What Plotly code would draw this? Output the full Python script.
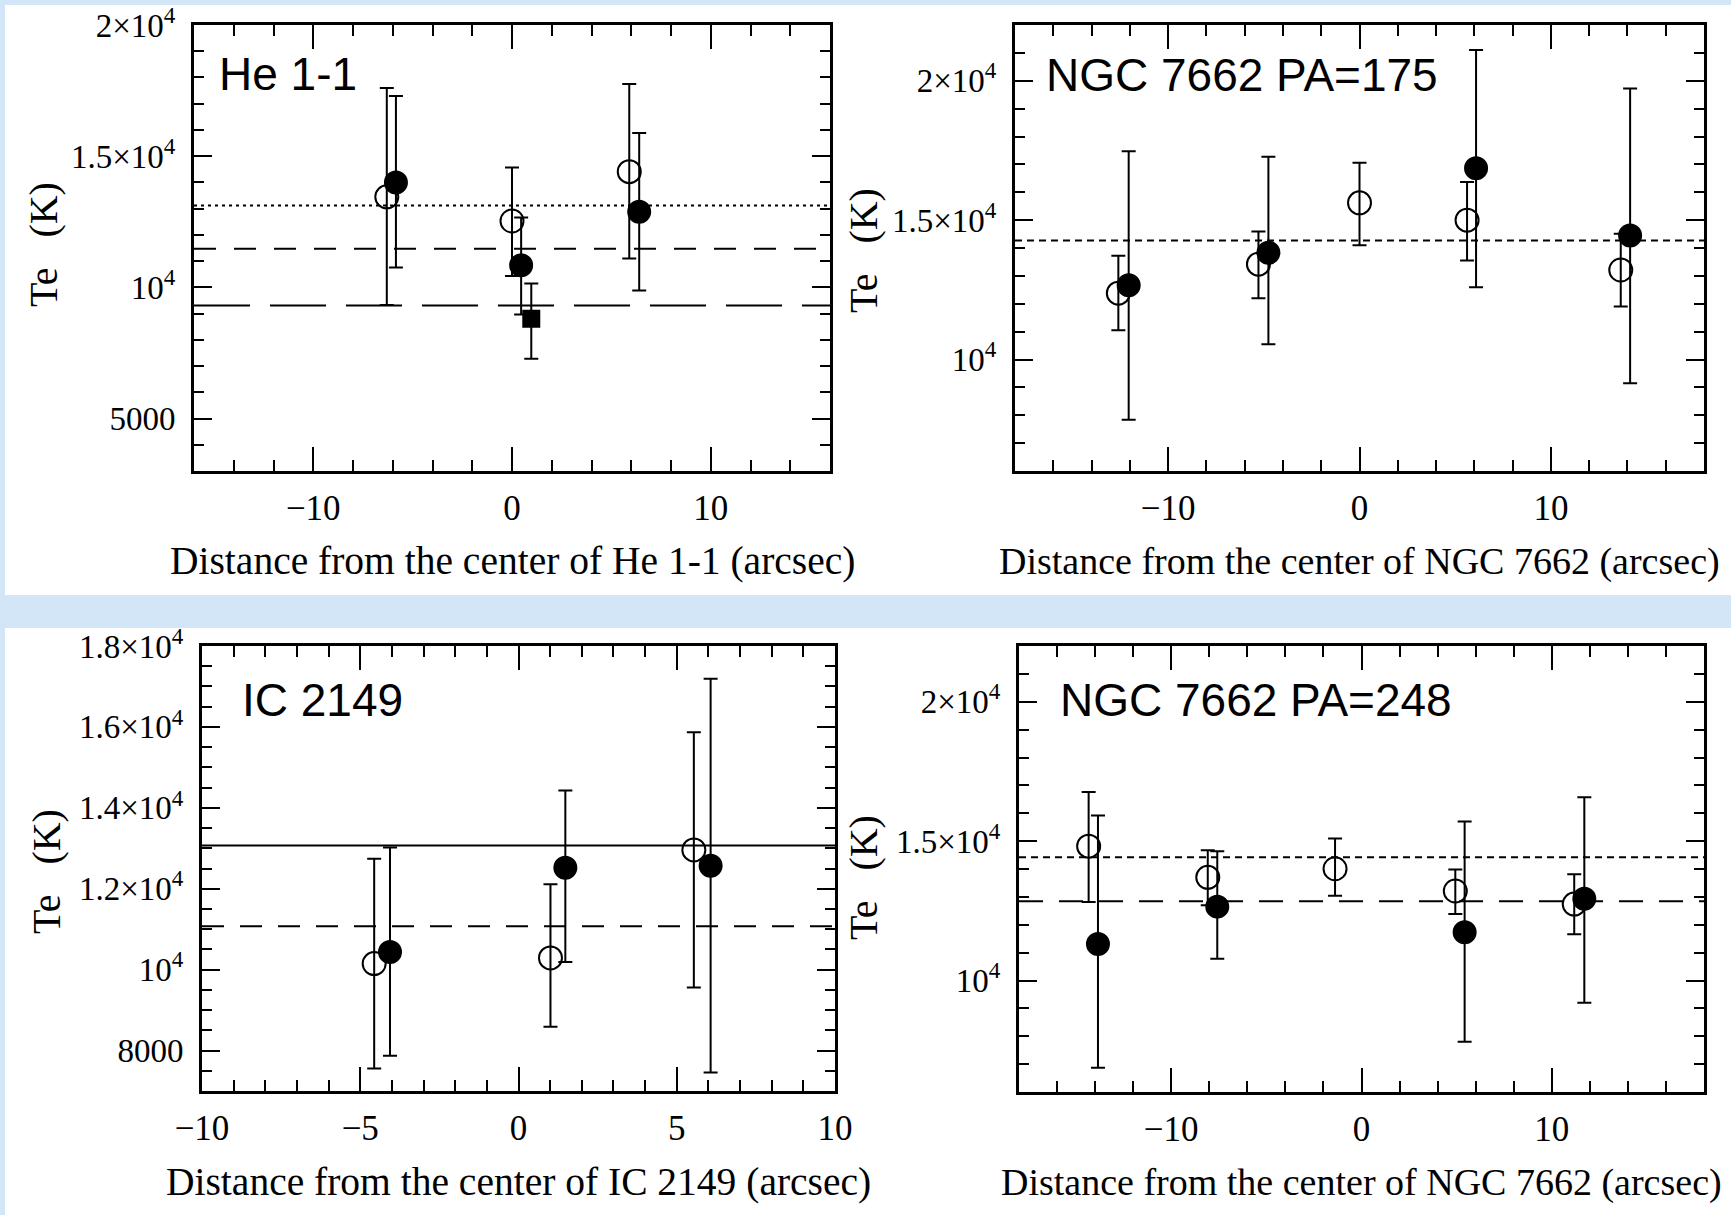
import plotly.graph_objects as go

# ---------------- data ----------------
# He 1-1
he_open_x = [-6.3, 0.0, 5.9]
he_open_y = [13450, 12530, 14410]
he_open_up = [4150, 2040, 3340]
he_open_dn = [4120, 2100, 3310]
he_fill_x = [-5.84, 0.46, 6.4]
he_fill_y = [14000, 10840, 12880]
he_fill_up = [3290, 1820, 3000]
he_fill_dn = [3240, 1870, 3000]
he_sq_x = [0.97]
he_sq_y = [8800]
he_sq_up = [1350]
he_sq_dn = [1520]
he_levels = [13120, 11470, 9310]          # dotted, dashed, long-dashed

# NGC 7662 PA=175
n175_open_x = [-12.6, -5.28, 0.0, 5.62, 13.65]
n175_open_y = [12380, 13420, 15620, 15000, 13210]
n175_open_up = [1340, 1170, 1440, 1370, 1300]
n175_open_dn = [1330, 1220, 1520, 1450, 1310]
n175_fill_x = [-12.06, -4.76, 6.09, 14.14]
n175_fill_y = [12660, 13830, 16860, 14450]
n175_fill_up = [4810, 3440, 4240, 5270]
n175_fill_dn = [4820, 3280, 4270, 5300]
n175_levels = [14270]                     # dotted

# IC 2149
ic_open_x = [-4.56, 1.01, 5.54]
ic_open_y = [10150, 10290, 12960]
ic_open_up = [2590, 1820, 2910]
ic_open_dn = [2595, 1700, 3400]
ic_fill_x = [-4.06, 1.48, 6.07]
ic_fill_y = [10435, 12520, 12570]
ic_fill_up = [2585, 1910, 4620]
ic_fill_dn = [2565, 2330, 5110]
ic_levels = [13070, 11070]                # solid, dashed

# NGC 7662 PA=248
n248_open_x = [-14.34, -8.08, -1.39, 4.93, 11.18]
n248_open_y = [14820, 13700, 14010, 13210, 12740]
n248_open_up = [1940, 970, 1080, 770, 1070]
n248_open_dn = [2000, 1000, 970, 820, 1080]
n248_fill_x = [-13.85, -7.58, 5.42, 11.71]
n248_fill_y = [11310, 12650, 11730, 12930]
n248_fill_up = [4610, 1990, 3970, 3640]
n248_fill_dn = [4440, 1870, 3930, 3730]
n248_levels = [14420, 12840]              # dotted, dashed

# tick labels
he_yticks = [5000, 10000, 15000, 20000]
he_ytext = ["5000", "10<sup>4</sup>", "1.5×10<sup>4</sup>", "2×10<sup>4</sup>"]
n_yticks = [10000, 15000, 20000]
n_ytext = ["10<sup>4</sup>", "1.5×10<sup>4</sup>", "2×10<sup>4</sup>"]
ic_yticks = [8000, 10000, 12000, 14000, 16000, 18000]
ic_ytext = ["8000", "10<sup>4</sup>", "1.2×10<sup>4</sup>", "1.4×10<sup>4</sup>",
            "1.6×10<sup>4</sup>", "1.8×10<sup>4</sup>"]
x_ticks_20 = [-10, 0, 10]
x_text_20 = ["−10", "0", "10"]
ic_xticks = [-10, -5, 0, 5, 10]
ic_xtext = ["−10", "−5", "0", "5", "10"]

titles_x = ["Distance from the center of He 1-1 (arcsec)",
            "Distance from the center of NGC 7662 (arcsec)",
            "Distance from the center of IC 2149 (arcsec)",
            "Distance from the center of NGC 7662 (arcsec)"]
panel_labels = ["He 1-1", "NGC 7662 PA=175", "IC 2149", "NGC 7662 PA=248"]

# ---------------- figure ----------------
W, H = 1731, 1215
SERIF = "Liberation Serif"
SANS = "Liberation Sans"
BG = "#d3e6f8"

fig = go.Figure()


def err(up, dn):
    return dict(type="data", symmetric=False, array=up, arrayminus=dn,
                color="black", thickness=2, width=7)


def add_pts(x, y, up, dn, symbol, size, ax):
    fig.add_trace(go.Scatter(
        x=x, y=y, mode="markers", xaxis="x" + ax, yaxis="y" + ax,
        error_y=err(up, dn),
        marker=dict(symbol=symbol, size=size, color="black",
                    line=dict(color="black", width=2)),
        showlegend=False, hoverinfo="skip"))


add_pts(he_open_x, he_open_y, he_open_up, he_open_dn, "circle-open", 23, "")
add_pts(he_fill_x, he_fill_y, he_fill_up, he_fill_dn, "circle", 22, "")
add_pts(he_sq_x, he_sq_y, he_sq_up, he_sq_dn, "square", 16, "")
add_pts(n175_open_x, n175_open_y, n175_open_up, n175_open_dn, "circle-open", 23, "2")
add_pts(n175_fill_x, n175_fill_y, n175_fill_up, n175_fill_dn, "circle", 22, "2")
add_pts(ic_open_x, ic_open_y, ic_open_up, ic_open_dn, "circle-open", 23, "3")
add_pts(ic_fill_x, ic_fill_y, ic_fill_up, ic_fill_dn, "circle", 22, "3")
add_pts(n248_open_x, n248_open_y, n248_open_up, n248_open_dn, "circle-open", 23, "4")
add_pts(n248_fill_x, n248_fill_y, n248_fill_up, n248_fill_dn, "circle", 22, "4")

# domains (pixel boxes -> paper fractions)
boxes = [(194, 830, 25, 471), (1015, 1704, 25, 471),
         (202, 835, 646, 1091), (1019, 1704, 646, 1092)]


def dom(b):
    return [b[0] / W, b[1] / W], [1 - b[3] / H, 1 - b[2] / H]


xtickfont = dict(family=SERIF, size=35, color="black")
ytickfont = dict(family=SERIF, size=33, color="black")


def xaxis(b, rng, tv, tt, minor):
    dx, _ = dom(b)
    return dict(domain=dx, range=rng, tickvals=tv, ticktext=tt, ticks="inside",
                ticklen=24, tickwidth=2, tickcolor="black",
                minor=dict(dtick=minor, tick0=0, ticks="inside", ticklen=11,
                           tickwidth=2, tickcolor="black"),
                showline=True, linewidth=3, linecolor="black", mirror="ticks",
                showgrid=False, zeroline=False, tickfont=xtickfont,
                ticklabelstandoff=4, fixedrange=True, automargin=False)


def yaxis(b, rng, tv, tt, minor):
    _, dy = dom(b)
    return dict(domain=dy, range=rng, tickvals=tv, ticktext=tt, ticks="inside",
                ticklen=18, tickwidth=2, tickcolor="black",
                minor=dict(dtick=minor, tick0=0, ticks="inside", ticklen=10,
                           tickwidth=2, tickcolor="black"),
                showline=True, linewidth=3, linecolor="black", mirror="ticks",
                showgrid=False, zeroline=False, tickfont=ytickfont,
                ticklabelstandoff=9, fixedrange=True, automargin=False)


fig.update_layout(
    xaxis=xaxis(boxes[0], [-16, 16], x_ticks_20, x_text_20, 2),
    yaxis=yaxis(boxes[0], [3000, 20000], he_yticks, he_ytext, 1000),
    xaxis2=dict(xaxis(boxes[1], [-18, 18], x_ticks_20, x_text_20, 2), anchor="y2"),
    yaxis2=dict(yaxis(boxes[1], [6000, 22000], n_yticks, n_ytext, 1000), anchor="x2"),
    xaxis3=dict(xaxis(boxes[2], [-10, 10], ic_xticks, ic_xtext, 1), anchor="y3"),
    yaxis3=dict(yaxis(boxes[2], [7000, 18000], ic_yticks, ic_ytext, 500), anchor="x3"),
    xaxis4=dict(xaxis(boxes[3], [-18, 18], x_ticks_20, x_text_20, 2), anchor="y4"),
    yaxis4=dict(yaxis(boxes[3], [6000, 22000], n_yticks, n_ytext, 1000), anchor="x4"),
)

# background: light blue page with white panels
shapes = [
    dict(type="rect", xref="paper", yref="paper", x0=5 / W, x1=1,
         y0=1 - 595 / H, y1=1 - 5 / H, fillcolor="white", line_width=0, layer="below"),
    dict(type="rect", xref="paper", yref="paper", x0=5 / W, x1=1,
         y0=0, y1=1 - 628 / H, fillcolor="white", line_width=0, layer="below"),
]


def hline(ax, yv, dash):
    shapes.append(dict(type="line", xref=f"x{ax} domain", yref=f"y{ax}",
                       x0=0, x1=1, y0=yv, y1=yv,
                       line=dict(color="black", width=2, dash=dash), layer="above"))


hline("", he_levels[0], "3px,4px")
hline("", he_levels[1], "22px,18px")
hline("", he_levels[2], "56px,20px")
hline("2", n175_levels[0], "7px,5px")
hline("3", ic_levels[0], "solid")
hline("3", ic_levels[1], "22px,16px")
hline("4", n248_levels[0], "7px,5px")
hline("4", n248_levels[1], "24px,16px")

annotations = []
# x-axis titles
for b, t, ypix, fs in zip(boxes, titles_x, [561, 561, 1182, 1182], [39.5, 38, 39.5, 38]):
    annotations.append(dict(text=t, xref="paper", yref="paper",
                            x=(b[0] + b[1]) / 2 / W, y=1 - ypix / H,
                            xanchor="center", yanchor="middle", showarrow=False,
                            font=dict(family=SERIF, size=fs, color="black")))
# y-axis titles
for xpix, ypix in [(44, 245), (863, 251), (46, 872), (863, 878)]:
    annotations.append(dict(text="Te   (K)", xref="paper", yref="paper",
                            x=xpix / W, y=1 - ypix / H, textangle=-90,
                            xanchor="center", yanchor="middle", showarrow=False,
                            font=dict(family=SERIF, size=40, color="black")))
# panel labels
for t, (xpix, ypix) in zip(panel_labels, [(217, 74), (1044, 75), (240, 700), (1058, 700)]):
    annotations.append(dict(text=t, xref="paper", yref="paper",
                            x=xpix / W, y=1 - ypix / H,
                            xanchor="left", yanchor="middle", showarrow=False,
                            font=dict(family=SANS, size=46, color="black")))

fig.update_layout(
    width=W, height=H, margin=dict(l=0, r=0, t=0, b=0, autoexpand=False),
    paper_bgcolor=BG, plot_bgcolor="white",
    shapes=shapes, annotations=annotations, showlegend=False,
)

fig.write_html(
    "out.html",
    config={"displayModeBar": False, "staticPlot": True},
    post_script=(
        "document.body.style.margin='0';"
        "document.body.style.background='" + BG + "';"
        "document.documentElement.style.overflow='hidden';"
    ),
)
